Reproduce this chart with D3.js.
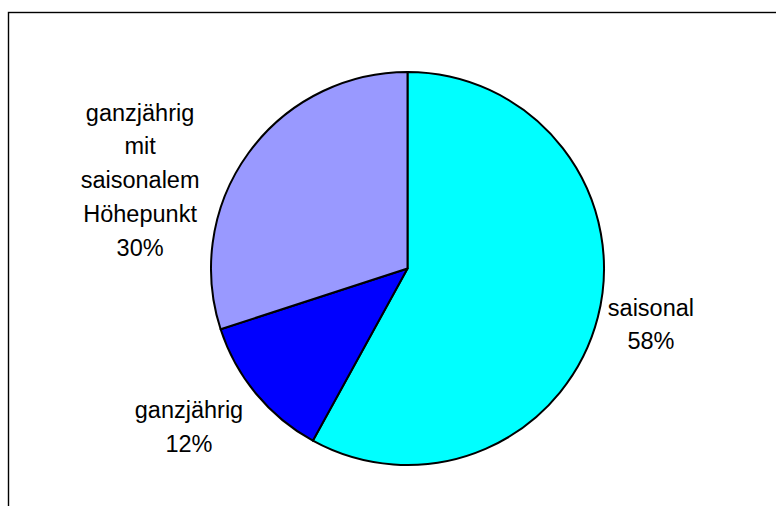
<!DOCTYPE html>
<html>
<head>
<meta charset="utf-8">
<script src="https://cdn.jsdelivr.net/npm/d3@7"></script>
<style>
  html, body { margin: 0; padding: 0; background: #fff; }
  svg { display: block; }
  text { font-family: "Liberation Sans", Arial, Helvetica, sans-serif; fill: #000; }
</style>
</head>
<body>
<svg id="chart" width="776" height="506"></svg>
<script>
// Share of offers by season type
const categories = ["saisonal", "ganzjährig", "ganzjährig mit saisonalem Höhepunkt"];
const labelLines = [["saisonal"], ["ganzjährig"], ["ganzjährig", "mit", "saisonalem", "Höhepunkt"]];
const values = [58, 12, 30];
const colors = ["#00FFFF", "#0000FF", "#9999FF"];

// Layout
const W = 776, H = 506;
const cx = 407.5, cy = 268.5, R = 196.5;
const labelRadius = R + 50;
const fontSize = 23.5, lineHeight = 33.8;
// nudges of each label block away from its radial anchor
const labelShift = [[4.7, -4.8], [-28.6, 1.9], [-68, 57]];

const svg = d3.select("#chart");

// outer frame of the chart area (runs past the right and bottom edges)
svg.append("rect")
  .attr("x", 8.5).attr("y", 12.5)
  .attr("width", W + 20).attr("height", H + 20)
  .attr("fill", "none")
  .attr("stroke", "#000")
  .attr("stroke-width", 1.4);

const total = d3.sum(values);
const data = values.map((v, i) => ({ name: categories[i], value: v, lines: labelLines[i], color: colors[i], i }));

const pie = d3.pie().sort(null).value(d => d.value).startAngle(0).endAngle(2 * Math.PI);
const arcs = pie(data);

const arc = d3.arc().innerRadius(0).outerRadius(R);
const labelArc = d3.arc().innerRadius(labelRadius).outerRadius(labelRadius);

const g = svg.append("g").attr("transform", `translate(${cx},${cy})`);

g.selectAll("path.slice")
  .data(arcs)
  .join("path")
  .attr("class", "slice")
  .attr("d", arc)
  .attr("fill", d => d.data.color)
  .attr("stroke", "#000")
  .attr("stroke-width", 2)
  .attr("stroke-linejoin", "round");

// category labels with percentages
const labels = g.selectAll("text.label")
  .data(arcs)
  .join("text")
  .attr("class", "label")
  .attr("text-anchor", "middle")
  .style("font-size", fontSize + "px");

labels.each(function(d) {
  const [ax, ay] = labelArc.centroid(d);
  const [sx, sy] = labelShift[d.data.i];
  const lx = ax + sx, ly = ay + sy;
  const pct = Math.round(d.data.value / total * 100) + "%";
  const lines = d.data.lines.concat([pct]);
  const firstBaseline = ly - (lines.length - 1) / 2 * lineHeight + 7.5;
  const t = d3.select(this);
  lines.forEach((s, k) => {
    t.append("tspan")
      .attr("x", lx)
      .attr("y", firstBaseline + k * lineHeight)
      .text(s);
  });
});
</script>
</body>
</html>
